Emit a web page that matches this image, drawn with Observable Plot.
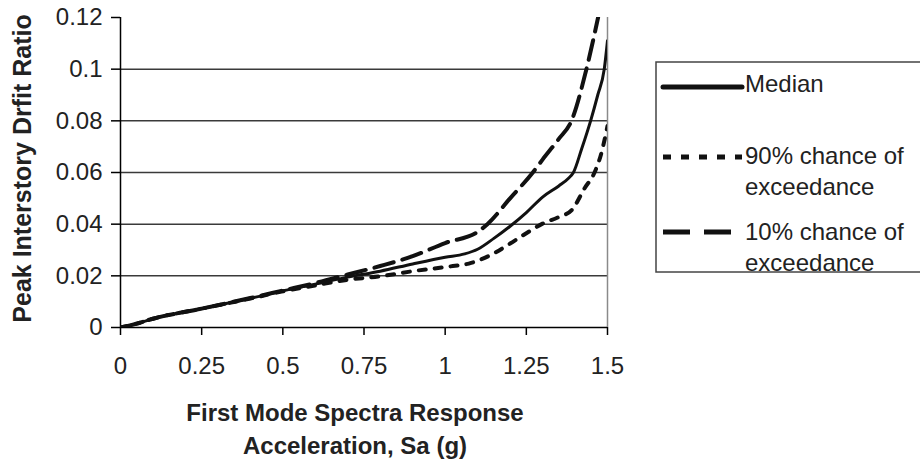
<!DOCTYPE html>
<html>
<head>
<meta charset="utf-8">
<script src="https://cdn.jsdelivr.net/npm/d3@7"></script>
<script src="https://cdn.jsdelivr.net/npm/@observablehq/plot@0.6"></script>
<style>
  html, body { margin: 0; padding: 0; background: #fff; }
  #wrap { position: relative; width: 920px; height: 461px; overflow: hidden; font-family: "Liberation Sans", Arial, sans-serif; }
  #legend { position: absolute; left: 0; top: 0; }
</style>
</head>
<body>
<div id="wrap"></div>
<script>
// ---- data ----
const medianX = [0, 0.05, 0.1, 0.25, 0.4, 0.5, 0.6, 0.7, 0.8, 0.9, 1.0, 1.06, 1.1, 1.15, 1.2, 1.25, 1.3, 1.35, 1.38, 1.395, 1.42, 1.448, 1.47, 1.49, 1.5];
const medianY = [0, 0.0015, 0.0034, 0.0073, 0.0113, 0.0142, 0.0168, 0.0195, 0.0218, 0.0246, 0.0272, 0.0285, 0.0303, 0.0345, 0.0392, 0.0445, 0.0505, 0.0548, 0.0578, 0.060, 0.069, 0.080, 0.090, 0.100, 0.111];

const p90X = [0, 0.05, 0.1, 0.25, 0.4, 0.5, 0.6, 0.7, 0.8, 0.9, 1.0, 1.08, 1.15, 1.2, 1.25, 1.3, 1.35, 1.39, 1.43, 1.46, 1.48, 1.5];
const p90Y = [0, 0.0015, 0.0034, 0.0073, 0.0112, 0.014, 0.0163, 0.0185, 0.0198, 0.0218, 0.0234, 0.025, 0.0287, 0.0325, 0.0365, 0.0402, 0.0428, 0.0455, 0.054, 0.060, 0.067, 0.078];

const p10X = [0, 0.05, 0.1, 0.25, 0.4, 0.5, 0.6, 0.7, 0.8, 0.9, 1.0, 1.1, 1.13, 1.2, 1.27, 1.3, 1.35, 1.389, 1.435, 1.471];
const p10Y = [0, 0.0015, 0.0034, 0.0073, 0.0114, 0.0143, 0.0172, 0.0205, 0.0238, 0.0276, 0.0327, 0.037, 0.040, 0.050, 0.060, 0.065, 0.073, 0.080, 0.100, 0.120];

const xTicks = [0, 0.25, 0.5, 0.75, 1, 1.25, 1.5];
const xTickLabels = ["0", "0.25", "0.5", "0.75", "1", "1.25", "1.5"];
const yTicks = [0, 0.02, 0.04, 0.06, 0.08, 0.1, 0.12];
const yTickLabels = ["0", "0.02", "0.04", "0.06", "0.08", "0.1", "0.12"];
const gridY = [0.02, 0.04, 0.06, 0.08, 0.1];

const xTitle = "First Mode Spectra Response\nAcceleration, Sa (g)";
const yTitle = "Peak Interstory Drfit Ratio";
const legendLabels = ["Median", "90% chance of\nexceedance", "10% chance of\nexceedance"];

// ---- build tables ----
const toRows = (xs, ys) => xs.map((x, i) => ({x, y: ys[i]}));
const median = toRows(medianX, medianY);
const p90 = toRows(p90X, p90Y);
const p10 = toRows(p10X, p10Y);

const font = "Liberation Sans, Arial, sans-serif";

const chart = Plot.plot({
  width: 920,
  height: 461,
  marginLeft: 120,
  marginRight: 313,
  marginTop: 17,
  marginBottom: 134,
  style: { fontFamily: font, background: "#fff", color: "#222" },
  x: { domain: [0, 1.5] },
  y: { domain: [0, 0.12] },
  marks: [
    Plot.ruleY(gridY, { stroke: "#3a3a3a", strokeWidth: 1.5 }),
    Plot.ruleX([1.5], { y1: 0, y2: 0.12, stroke: "#8a8a8a", strokeWidth: 1.5 }),
    Plot.axisY({ ticks: yTicks, tickFormat: (d) => yTickLabels[yTicks.indexOf(d)], tickSize: 9, tickPadding: 9, fontSize: 24, label: null, stroke: "#000", strokeWidth: 1.5, fill: "#222" }),
    Plot.axisX({ ticks: xTicks, tickFormat: (d) => xTickLabels[xTicks.indexOf(d)], tickSize: 8, tickPadding: 21, fontSize: 24, label: null, stroke: "#000", strokeWidth: 1.5, fill: "#222" }),
    Plot.ruleX([0], { y1: 0, y2: 0.12, stroke: "#000", strokeWidth: 1.5 }),
    Plot.ruleY([0], { x1: 0, x2: 1.5, stroke: "#000", strokeWidth: 1.5 }),
    Plot.line(p90, { x: "x", y: "y", curve: "monotone-x", stroke: "#111", strokeWidth: 4, strokeDasharray: "7,9", clip: true }),
    Plot.line(p10, { x: "x", y: "y", curve: "monotone-x", stroke: "#111", strokeWidth: 4, strokeDasharray: "20,9", clip: true }),
    Plot.line(median, { x: "x", y: "y", curve: "monotone-x", stroke: "#111", strokeWidth: 3, clip: true }),
    Plot.text([xTitle], { frameAnchor: "bottom", textAnchor: "middle", dx: -9, dy: 99, lineAnchor: "middle", lineHeight: 1.375, fontSize: 24, fontWeight: "bold", fill: "#222" }),
    Plot.text([yTitle], { frameAnchor: "left", textAnchor: "middle", lineAnchor: "middle", rotate: -90, dx: -98, dy: -4, fontSize: 25, fontWeight: "bold", fill: "#222" })
  ]
});

const wrap = document.getElementById("wrap");
wrap.appendChild(chart);

// ---- legend (overlay) ----
const leg = d3.select(wrap).append("svg")
  .attr("id", "legend")
  .attr("width", 920).attr("height", 461)
  .style("font-family", font);

leg.append("rect")
  .attr("x", 656).attr("y", 62).attr("width", 300).attr("height", 210)
  .attr("fill", "none").attr("stroke", "#444").attr("stroke-width", 1.5);

const entries = [
  { label: legendLabels[0], ly: 87, ty: 83, dash: null, w: 5 },
  { label: legendLabels[1], ly: 157, ty: 155, dash: "8,10", w: 5 },
  { label: legendLabels[2], ly: 232, ty: 231, dash: "27,14", w: 5 }
];
entries.forEach(e => {
  const ln = leg.append("line")
    .attr("x1", 663).attr("x2", 742).attr("y1", e.ly).attr("y2", e.ly)
    .attr("stroke", "#111").attr("stroke-width", e.w).attr("stroke-linecap", e.dash ? "butt" : "round");
  if (e.dash) ln.attr("stroke-dasharray", e.dash);
  const lines = e.label.split("\n");
  const t = leg.append("text").attr("x", 745).attr("y", e.ty).attr("font-size", 24).attr("fill", "#222").attr("dominant-baseline", "central");
  lines.forEach((s, i) => {
    t.append("tspan").attr("x", 745).attr("dy", i === 0 ? 0 : 31).text(s);
  });
});
</script>
</body>
</html>
